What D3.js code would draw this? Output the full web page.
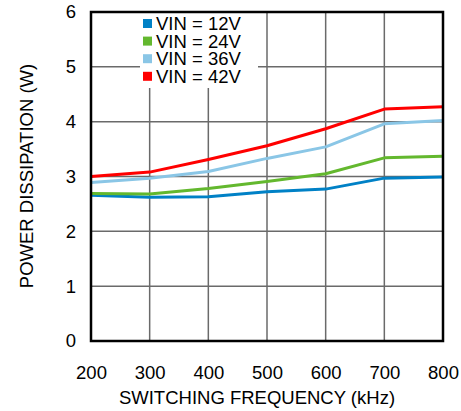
<!DOCTYPE html>
<html><head><meta charset="utf-8">
<script src="https://cdn.jsdelivr.net/npm/d3@7"></script>
<style>body{margin:0;background:#fff}svg{display:block}text{font-family:"Liberation Sans",Arial,sans-serif;fill:#000}</style>
</head><body><svg id="c" width="461" height="411"></svg>
<script>
const freq = [200, 300, 400, 500, 600, 700, 800];
const vin12 = [2.66, 2.62, 2.63, 2.72, 2.77, 2.97, 2.99];
const vin24 = [2.69, 2.68, 2.78, 2.91, 3.05, 3.34, 3.37];
const vin36 = [2.89, 2.97, 3.09, 3.33, 3.54, 3.96, 4.02];
const vin42 = [3.00, 3.08, 3.31, 3.56, 3.87, 4.23, 4.27];
const seriesNames = ["VIN = 12V", "VIN = 24V", "VIN = 36V", "VIN = 42V"];
const seriesColors = ["#0081c6", "#63b82e", "#8ac6e6", "#ff0000"];
const yTicks = [0, 1, 2, 3, 4, 5, 6];
const xTicks = [200, 300, 400, 500, 600, 700, 800];

const series = [vin12, vin24, vin36, vin42];
const FS = 18.5;
const svg = d3.select("#c");
const L = 91, R = 443, T = 12, B = 341;
const x = d3.scaleLinear().domain([200, 800]).range([L, R]);
const y = d3.scaleLinear().domain([0, 6]).range([B, T]);

// grid
svg.append("g").selectAll("line").data(xTicks.slice(1, -1)).join("line")
  .attr("x1", d => x(d)).attr("x2", d => x(d)).attr("y1", T).attr("y2", B)
  .attr("stroke", "#6a6a6a").attr("stroke-width", 1.5);
svg.append("g").selectAll("line").data(yTicks.slice(1, -1)).join("line")
  .attr("y1", d => y(d)).attr("y2", d => y(d)).attr("x1", L).attr("x2", R)
  .attr("stroke", "#6a6a6a").attr("stroke-width", 1.5);

// legend background
svg.append("rect").attr("x", 140).attr("y", T + 1).attr("width", 118).attr("height", 75).attr("fill", "#fff");

// lines
const line = d3.line().x((d, i) => x(freq[i])).y(d => y(d));
series.forEach((s, k) => {
  svg.append("path").datum(s).attr("d", line).attr("fill", "none")
    .attr("stroke", seriesColors[k]).attr("stroke-width", 3).attr("stroke-linejoin", "round");
});

// frame
svg.append("rect").attr("x", L).attr("y", T).attr("width", R - L).attr("height", B - T)
  .attr("fill", "none").attr("stroke", "#000").attr("stroke-width", 2.5);

// axes
const yAxis = d3.axisLeft(y).tickValues(yTicks).tickSize(0).tickPadding(15).tickFormat(d3.format("d"));
const gy = svg.append("g").attr("transform", `translate(${L},0)`).call(yAxis);
gy.select(".domain").remove();
gy.selectAll("text").attr("font-size", FS).style("font-family", '"Liberation Sans",Arial,sans-serif');

const xAxis = d3.axisBottom(x).tickValues(xTicks).tickSize(0).tickPadding(25).tickFormat(d3.format("d"));
const gx = svg.append("g").attr("transform", `translate(0,${B})`).call(xAxis);
gx.select(".domain").remove();
gx.selectAll("text").attr("font-size", FS).style("font-family", '"Liberation Sans",Arial,sans-serif');

svg.append("text").attr("x", 257).attr("y", 403.5).attr("text-anchor", "middle")
  .attr("font-size", FS).text("SWITCHING FREQUENCY (kHz)");
svg.append("text").attr("transform", `translate(33,176) rotate(-90)`).attr("text-anchor", "middle")
  .attr("font-size", FS).text("POWER DISSIPATION (W)");

// legend
const lg = svg.append("g");
seriesNames.forEach((n, k) => {
  const cy = 23.5 + k * 17.6;
  lg.append("rect").attr("x", 143).attr("y", cy - 4.5).attr("width", 9).attr("height", 9).attr("fill", seriesColors[k]);
  lg.append("text").attr("x", 156).attr("y", cy + 6.6).attr("font-size", FS).text(n);
});
</script></body></html>
